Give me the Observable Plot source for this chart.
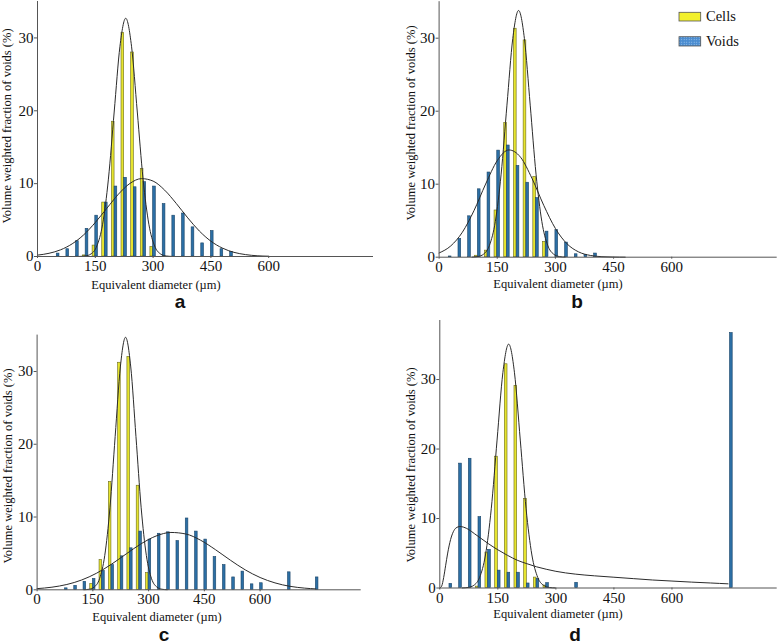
<!DOCTYPE html>
<html><head><meta charset="utf-8">
<script src="https://cdn.jsdelivr.net/npm/d3@7"></script>
<script src="https://cdn.jsdelivr.net/npm/@observablehq/plot@0.6"></script>
<style>
body{margin:0;background:#fff;}
#root{position:relative;width:778px;height:644px;overflow:hidden;background:#fff;font-family:"Liberation Serif","Times New Roman","DejaVu Serif",serif;color:#111;}
.panel{position:absolute;}
.ylab{position:absolute;transform:translate(-50%,-50%) rotate(-90deg);white-space:nowrap;font-size:12.5px;line-height:1;}
.xlab{position:absolute;transform:translate(-50%,-50%);white-space:nowrap;font-size:12.5px;line-height:1;}
.letter{position:absolute;transform:translate(-50%,-50%);font-family:"Liberation Sans",Arial,sans-serif;font-weight:bold;font-size:19px;line-height:1;}
.leg{position:absolute;font-size:14.5px;line-height:1;white-space:nowrap;}
</style></head><body><div id="root"></div>
<script>
// Bin centres (µm) shared by all panels
const bins = [25,50,75,100,125,150,175,200,225,250,275,300,325,350,375,400,425,450,475,500,525,550,575,600,675,750];
const xTicks = [0,150,300,450,600];
const yTicks = [0,10,20,30];
const seriesNames = ["Cells","Voids"];
const panelLetters = ["a","b","c","d"];
const yTitle = "Volume weighted fraction of voids (%)";
const xTitle = "Equivalent diameter (µm)";

// Panel a
const cellsA = [0,0,0,0,0.15,1.5,7.4,18.5,30.7,28.0,12.0,1.3,0,0,0,0,0,0,0,0,0,0,0,0,0,0];
const voidsA = [0,0.4,1.0,2.1,3.8,5.6,7.4,9.6,10.8,9.5,10.2,9.6,7.2,5.6,5.9,4.0,1.8,3.5,1.0,0.6,0,0,0,0,0,0];
const cellFitA = [[109,0.01],[124,0.07],[139,0.36],[154,1.44],[169,4.43],[184,10.62],[199,19.83],[214,28.86],[229,32.7],[244,28.86],[259,19.83],[274,10.62],[289,4.43],[304,1.44],[319,0.36],[334,0.07],[349,0.01]];
const voidFitA = [[0,0.19],[30,0.44],[60,0.92],[90,1.74],[120,2.98],[150,4.67],[180,6.62],[210,8.55],[240,10.03],[270,10.69],[300,10.35],[330,9.11],[360,7.29],[390,5.30],[420,3.50],[450,2.10],[480,1.15],[510,0.57],[540,0.26],[570,0.10],[600,0.04]];

// Panel b
const cellsB = [0,0,0,0.2,0.9,6.4,18.4,31.3,29.7,11.0,2.1,0,0,0,0,0,0,0,0,0,0,0,0,0,0,0];
const voidsB = [0.1,2.5,5.6,9.3,11.6,14.6,15.3,12.5,10.2,8.1,3.5,3.7,2.0,0.4,0.3,0.5,0,0,0,0,0,0,0,0,0,0];
const cellFitB = [[85,0.015],[100,0.09],[115,0.43],[130,1.64],[145,4.88],[160,11.38],[175,20.83],[190,29.95],[205,33.8],[220,29.95],[235,20.83],[250,11.38],[265,4.88],[280,1.64],[295,0.43],[310,0.09],[325,0.015]];
const voidFitB = [[0,0.58],[30,1.54],[60,3.42],[90,6.38],[120,10.02],[150,13.23],[180,14.69],[210,13.70],[240,10.75],[270,7.09],[300,3.93],[330,1.83],[360,0.72],[390,0.24],[420,0.07],[450,0.02],[480,0]];

// Panel c
const cellsC = [0,0,0,0,0,0.8,4.1,14.8,31.2,32.0,14.3,2.3,0,0,0,0,0,0,0,0,0,0,0,0,0,0];
const voidsC = [0,0,0.2,0.55,1.1,1.5,2.6,3.4,4.6,5.7,8.0,6.9,7.7,7.9,6.7,9.8,8.0,6.9,4.5,3.4,1.7,2.5,0.75,0.9,2.4,1.7];
const cellFitC = [[126,0.012],[140,0.076],[154,0.39],[168,1.52],[182,4.70],[196,11.27],[210,21.05],[224,30.62],[238,34.7],[252,30.62],[266,21.05],[280,11.27],[294,4.70],[308,1.52],[322,0.39],[336,0.076],[350,0.012]];
const voidFitC = [[0,0.16],[40,0.36],[80,0.73],[120,1.35],[160,2.28],[200,3.51],[240,4.94],[280,6.33],[320,7.39],[360,7.88],[400,7.67],[440,6.81],[480,5.51],[520,4.07],[560,2.74],[600,1.69],[640,0.95],[680,0.48],[720,0.23],[750,0.12]];

// Panel d
const cellsD = [0,0,0,0.2,5.1,18.9,32.2,29.1,12.8,1.5,0.35,0,0,0,0,0,0,0,0,0,0,0,0,0,0,0];
const voidsD = [0.6,17.9,18.6,10.2,5.5,2.5,2.2,2.2,0.65,1.3,0.7,0,0,0.75,0,0,0,0,0,0,0,0,0,0,0,36.7];
const cellFitD = [[58,0.012],[73,0.077],[88,0.39],[103,1.54],[118,4.75],[133,11.40],[148,21.29],[163,30.98],[178,35.1],[193,30.98],[208,21.29],[223,11.40],[238,4.75],[253,1.54],[268,0.39],[283,0.077],[298,0.012]];
const voidFitD = [[0,0],[5,0.3],[10,1.5],[15,3.2],[20,4.9],[28,7.0],[35,8.1],[42,8.65],[52,8.85],[62,8.75],[75,8.4],[90,7.8],[105,7.2],[125,6.4],[150,5.5],[175,4.7],[200,4.0],[225,3.5],[250,3.05],[275,2.7],[300,2.4],[350,2.0],[400,1.75],[450,1.55],[500,1.35],[550,1.15],[600,1.0],[650,0.85],[700,0.72],[745,0.6]];

const yellow = "#e6e42e", yellowEdge = "#6b6a1c";
const blue = "#2c6fa5", blueEdge = "#1b4568";
const barW = 7;
const serif = '"Liberation Serif","Times New Roman","DejaVu Serif",serif';

const root = document.getElementById("root");

function toBars(vals){ return bins.map((b,i)=>({bin:b, v:vals[i]})).filter(d=>d.v>0); }

function makePanel(p){
  const chart = Plot.plot({
    width: p.w, height: p.h,
    marginLeft: p.ml, marginRight: p.mr, marginTop: p.mt, marginBottom: p.mb,
    x: {domain: [0, 872]},
    y: {domain: [0, p.ymax]},
    style: {fontFamily: serif, fontSize: "15px", color: "#111", background: "transparent", overflow: "visible"},
    marks: [
      Plot.rectY(toBars(p.cells), {x1: d => d.bin - barW, x2: d => d.bin, y: "v", fill: yellow, stroke: yellowEdge, strokeWidth: 0.6}),
      Plot.rectY(toBars(p.voids), {x1: d => d.bin, x2: d => d.bin + barW, y: "v", fill: blue, stroke: blueEdge, strokeWidth: 0.6}),
      Plot.line(p.cellFit, {x: d => d[0], y: d => d[1], curve: "monotone-x", stroke: "#2b2b2b", strokeWidth: 1}),
      Plot.line(p.voidFit, {x: d => d[0], y: d => d[1], curve: "monotone-x", stroke: "#2b2b2b", strokeWidth: 1}),
      Plot.ruleY([0], {stroke: "#555", strokeWidth: 1}),
      Plot.ruleX([0], {stroke: "#555", strokeWidth: 1}),
      Plot.axisX({ticks: xTicks, tickSize: 2, tickPadding: 2, label: null, stroke: "#555", fontSize: 15}),
      Plot.axisY({ticks: yTicks, tickSize: 3, tickPadding: 1, label: null, stroke: "#555", fontSize: 15})
    ]
  });
  chart.querySelectorAll("text").forEach(t => t.style.fontFamily = serif);
  const div = document.createElement("div");
  div.className = "panel";
  div.style.left = p.left + "px"; div.style.top = p.top + "px";
  div.appendChild(chart);
  root.appendChild(div);

  const yl = document.createElement("div");
  yl.className = "ylab"; yl.textContent = yTitle;
  yl.style.left = p.ylab[0] + "px"; yl.style.top = p.ylab[1] + "px";
  root.appendChild(yl);
  const xl = document.createElement("div");
  xl.className = "xlab"; xl.textContent = xTitle;
  xl.style.left = p.xlab[0] + "px"; xl.style.top = p.xlab[1] + "px";
  root.appendChild(xl);
  const lt = document.createElement("div");
  lt.className = "letter"; lt.textContent = p.letter;
  lt.style.left = p.let[0] + "px"; lt.style.top = p.let[1] + "px";
  root.appendChild(lt);
}

makePanel({left:0, top:0, w:390, h:310, ml:37, mr:17, mt:1, mb:54, ymax:35,
  cells:cellsA, voids:voidsA, cellFit:cellFitA, voidFit:voidFitA,
  ylab:[7,126], xlab:[156,285], let:[180,301], letter:panelLetters[0]});
makePanel({left:390, top:0, w:388, h:310, ml:48.6, mr:1.3, mt:1.2, mb:53.3, ymax:35,
  cells:cellsB, voids:voidsB, cellFit:cellFitB, voidFit:voidFitB,
  ylab:[411,123], xlab:[558,284], let:[577,301], letter:panelLetters[1]});
makePanel({left:0, top:310, w:390, h:334, ml:36.6, mr:29.3, mt:24.6, mb:54.7, ymax:35,
  cells:cellsC, voids:voidsC, cellFit:cellFitC, voidFit:voidFitC,
  ylab:[8,466], xlab:[157,617], let:[164,634], letter:panelLetters[2]});
makePanel({left:390, top:310, w:388, h:334, ml:49.3, mr:1.3, mt:10, mb:56.5, ymax:38.5,
  cells:cellsD, voids:voidsD, cellFit:cellFitD, voidFit:voidFitD,
  ylab:[411,465], xlab:[558,614], let:[575,634], letter:panelLetters[3]});

// Legend (panel b)
const legend = document.createElement("div");
legend.innerHTML =
  `<svg style="position:absolute;left:678px;top:11px" width="24" height="38">
     <defs><pattern id="dots" width="2.5" height="2.5" patternUnits="userSpaceOnUse">
       <rect width="2.5" height="2.5" fill="#4a8cd0"/><circle cx="1.2" cy="1.2" r="0.55" fill="#a9cdf0"/></pattern></defs>
     <rect x="1" y="1.3" width="21.7" height="8.7" fill="#f2f02c" stroke="#555" stroke-width="0.8"/>
     <rect x="1" y="25.7" width="21.7" height="9.3" fill="url(#dots)" stroke="#555" stroke-width="0.8"/>
   </svg>
   <div class="leg" style="left:706px;top:9px">${seriesNames[0]}</div>
   <div class="leg" style="left:706px;top:34px">${seriesNames[1]}</div>`;
root.appendChild(legend);
</script>
</body></html>
